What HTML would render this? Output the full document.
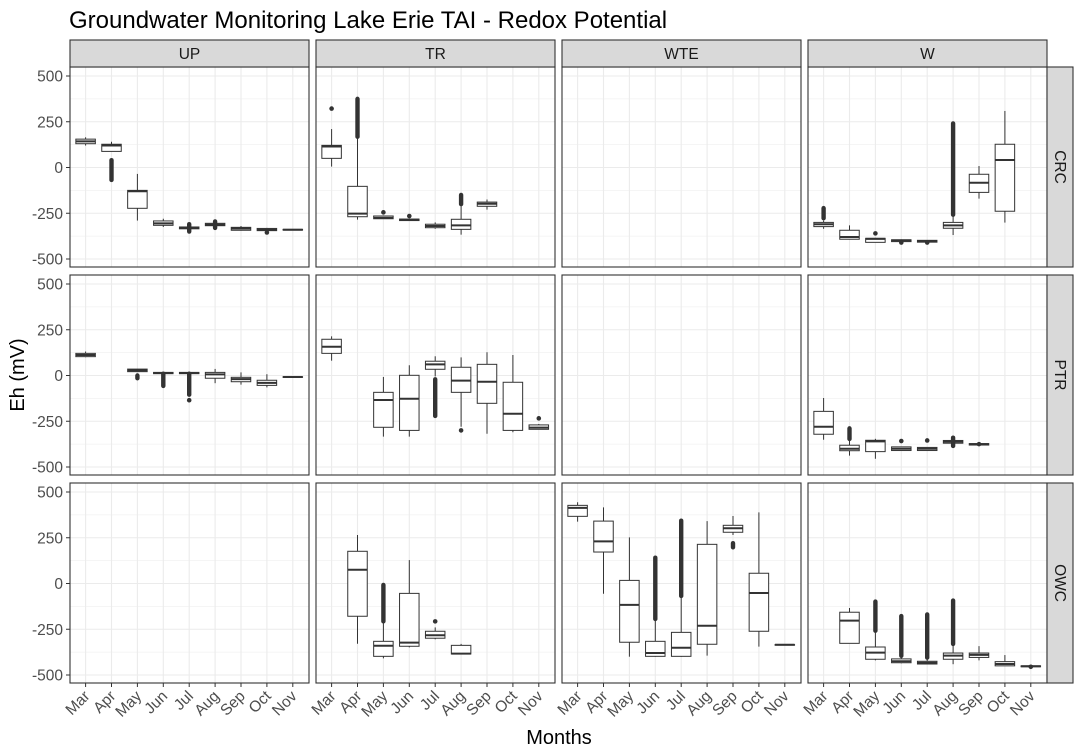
<!DOCTYPE html>
<html><head><meta charset="utf-8"><style>
body{margin:0;background:#fff}
svg{display:block;font-family:"Liberation Sans",Arial,sans-serif}
</style></head><body>
<svg id="chart" width="1081" height="754" viewBox="0 0 1081 754" xmlns="http://www.w3.org/2000/svg">
<rect width="1081" height="754" fill="#fff"/>
<text x="69" y="28" font-size="24" fill="#000">Groundwater Monitoring Lake Erie TAI - Redox Potential</text>
<text x="559" y="744" font-size="20" text-anchor="middle" fill="#000">Months</text>
<text transform="translate(24,375) rotate(-90)" font-size="20" text-anchor="middle" fill="#000">Eh (mV)</text>
<g id="layer"></g>
</svg>
<script>
const months=["Mar","Apr","May","Jun","Jul","Aug","Sep","Oct","Nov"];
const sites=["UP","TR","WTE","W"];
const zones=["CRC","PTR","OWC"];
const yTicks=[500,250,0,-250,-500];
const yMinor=[375,125,-125,-375];
// box data: [col, row, monthIndex]
const boxKeys=[
[0,0,0],[0,0,1],[0,0,2],[0,0,3],[0,0,4],[0,0,5],[0,0,6],[0,0,7],[0,0,8],
[1,0,0],[1,0,1],[1,0,2],[1,0,3],[1,0,4],[1,0,5],[1,0,6],
[3,0,0],[3,0,1],[3,0,2],[3,0,3],[3,0,4],[3,0,5],[3,0,6],[3,0,7],
[0,1,0],[0,1,2],[0,1,3],[0,1,4],[0,1,5],[0,1,6],[0,1,7],[0,1,8],
[1,1,0],[1,1,2],[1,1,3],[1,1,4],[1,1,5],[1,1,6],[1,1,7],[1,1,8],
[3,1,0],[3,1,1],[3,1,2],[3,1,3],[3,1,4],[3,1,5],[3,1,6],
[1,2,1],[1,2,2],[1,2,3],[1,2,4],[1,2,5],
[2,2,0],[2,2,1],[2,2,2],[2,2,3],[2,2,4],[2,2,5],[2,2,6],[2,2,7],[2,2,8],
[3,2,1],[3,2,2],[3,2,3],[3,2,4],[3,2,5],[3,2,6],[3,2,7],[3,2,8]
];
// [lower whisker, q1, median, q3, upper whisker]
const boxStats=[
[120,130,143,155,165],[88,88,120,127,141],[-290,-223,-130,-125,-35],[-325,-316,-305,-292,-280],[-340,-335,-330,-325,-320],[-325,-318,-312,-305,-298],[-345,-343,-333,-327,-320],[-348,-345,-340,-333,-330],[-343,-342,-340,-338,-337],
[5,50,115,121,210],[-285,-269,-252,-103,168],[-280,-280,-275,-265,-262],[-292,-290,-285,-282,-278],[-335,-329,-320,-310,-300],[-367,-338,-316,-283,-201],[-230,-212,-198,-189,-175],
[-335,-323,-310,-300,-290],[-392,-392,-380,-343,-316],[-409,-409,-390,-387,-385],[-405,-405,-398,-395,-393],[-410,-408,-402,-398,-396],[-369,-332,-316,-300,-260],[-170,-136,-83,-37,8],[-301,-239,41,127,309],
[100,103,112,121,131],[20,21,28,35,36],[8,10,14,17,19],[6,10,14,17,20],[-42,-15,6,17,36],[-50,-34,-20,-10,17],[-65,-54,-40,-26,7],[-10,-9,-8,-7,-6],
[81,121,157,198,214],[-334,-283,-134,-92,-8],[-334,-300,-127,1,56],[-5,34,61,78,105],[-280,-92,-28,45,99],[-318,-152,-34,61,127],[-310,-300,-209,-37,112],[-295,-294,-285,-270,-265],
[-351,-321,-280,-196,-123],[-438,-411,-400,-381,-350],[-455,-416,-360,-354,-346],[-410,-410,-400,-390,-388],[-410,-410,-400,-393,-392],[-372,-370,-362,-355,-352],[-380,-380,-376,-372,-372],
[-329,-179,75,176,265],[-409,-398,-340,-316,-210],[-349,-343,-323,-54,128],[-305,-299,-283,-261,-240],[-385,-385,-383,-338,-330],
[338,367,413,427,444],[-56,172,230,341,416],[-400,-321,-117,17,252],[-400,-398,-380,-316,-200],[-400,-398,-351,-267,-75],[-394,-332,-231,214,341],[265,280,302,318,369],[-345,-261,-52,56,389],
[-338,-337,-335,-334,-333],
[-327,-327,-203,-157,-134],[-420,-414,-378,-347,-262],[-436,-433,-425,-412,-400],[-440,-440,-433,-425,-408],[-441,-414,-394,-380,-335],[-420,-404,-390,-380,-342],[-450,-450,-440,-427,-391],[-456,-455,-452,-450,-449]
];
// outliers: numbers = single points, pairs = dense run from..to
const boxOutliers=[
[],[[40,-68]],[],[],[[-310,-350]],[[-295,-330]],[],[-355],[],
[322],[[168,375]],[-245],[-265],[],[[-150,-200]],[],
[[-222,-277]],[],[-360],[-410],[-410],[[241,-258]],[],[],
[],[[0,-15]],[[10,-57]],[[10,-105],-135],[],[],[],[],
[],[],[],[[-21,-221]],[-300],[],[],[-234],
[],[[-289,-347]],[],[-358],[-355],[[-340,-385]],[-375],
[],[[-8,-207]],[],[-207],[],
[],[],[],[[141,-194]],[[343,-68]],[],[[198,220]],[],[],
[],[[-99,-258]],[[-178,-395]],[[-169,-405]],[[-93,-330]],[],[],[-455]
];
const px0=[70,316,562,808], py0=[67,275,483], PW=239, PH=200;
const NS="http://www.w3.org/2000/svg";
const layer=document.getElementById('layer');
function yS(r,v){return py0[r]+9+(500-v)*0.183;}
function xS(c,m){return px0[c]+15.6+m*25.9;}
function mk(tag,attrs,parent){const e=document.createElementNS(NS,tag);for(const k in attrs)e.setAttribute(k,attrs[k]);(parent||layer).appendChild(e);return e;}
for(let c=0;c<4;c++){for(let r=0;r<3;r++){
  const g=mk('g',{});
  
  
  mk('rect',{x:px0[c],y:py0[r],width:PW,height:PH,fill:'#fff'},g);
  yMinor.forEach(v=>mk('line',{x1:px0[c],x2:px0[c]+PW,y1:yS(r,v),y2:yS(r,v),stroke:'#f2f2f2','stroke-width':0.7},g));
  yTicks.forEach(v=>mk('line',{x1:px0[c],x2:px0[c]+PW,y1:yS(r,v),y2:yS(r,v),stroke:'#ebebeb','stroke-width':1.1},g));
  months.forEach((m,i)=>mk('line',{x1:xS(c,i),x2:xS(c,i),y1:py0[r],y2:py0[r]+PH,stroke:'#ebebeb','stroke-width':1.1},g));
}}
boxKeys.forEach((k,i)=>{
  const [c,r,m]=k, s=boxStats[i], x=xS(c,m), w=19.5;
  const g=mk('g',{});
  
  
  mk('line',{x1:x,x2:x,y1:yS(r,s[0]),y2:yS(r,s[4]),stroke:'#333','stroke-width':1},g);
  mk('rect',{x:x-w/2,y:yS(r,s[3]),width:w,height:Math.max(0.5,yS(r,s[1])-yS(r,s[3])),fill:'#fff',stroke:'#333','stroke-width':1},g);
  mk('line',{x1:x-w/2,x2:x+w/2,y1:yS(r,s[2]),y2:yS(r,s[2]),stroke:'#333','stroke-width':2},g);
  boxOutliers[i].forEach(o=>{
    if(Array.isArray(o)) mk('line',{x1:x,x2:x,y1:yS(r,o[0]),y2:yS(r,o[1]),stroke:'#333','stroke-width':4.4,'stroke-linecap':'round'},g);
    else mk('circle',{cx:x,cy:yS(r,o),r:2.3,fill:'#333'},g);
  });
});
for(let c=0;c<4;c++){for(let r=0;r<3;r++){
  mk('rect',{x:px0[c],y:py0[r],width:PW,height:PH,fill:'none',stroke:'#333','stroke-width':1.1});
}}
sites.forEach((s,c)=>{
  const g=mk('g',{});
  
  
  mk('rect',{x:px0[c],y:40,width:PW,height:27,fill:'#d9d9d9',stroke:'#333','stroke-width':1.1},g);
  const t=mk('text',{x:px0[c]+PW/2,y:59,'font-size':15.5,'text-anchor':'middle',fill:'#1a1a1a'},g);t.textContent=s;
});
zones.forEach((z,r)=>{
  const g=mk('g',{});
  
  
  mk('rect',{x:1047,y:py0[r],width:26,height:PH,fill:'#d9d9d9',stroke:'#333','stroke-width':1.1},g);
  const t=mk('text',{transform:`translate(1055,${py0[r]+PH/2}) rotate(90)`,'font-size':15.5,'text-anchor':'middle',fill:'#1a1a1a'},g);t.textContent=z;
});
for(let r=0;r<3;r++){
  yTicks.forEach(v=>{
    mk('line',{x1:66,x2:70,y1:yS(r,v),y2:yS(r,v),stroke:'#333','stroke-width':1});
    const t=mk('text',{x:63,y:yS(r,v)+5.5,'font-size':15.5,'text-anchor':'end',fill:'#4d4d4d'});
    
    
    t.textContent=v;
  });
}
for(let c=0;c<4;c++){
  months.forEach((m,i)=>{
    const x=xS(c,i);
    mk('line',{x1:x,x2:x,y1:683,y2:687,stroke:'#333','stroke-width':1});
    const t=mk('text',{transform:`translate(${x+5},${697}) rotate(-45)`,'font-size':15.5,'text-anchor':'end',fill:'#4d4d4d'});
    
    
    t.textContent=m;
  });
}
</script>
</body></html>
